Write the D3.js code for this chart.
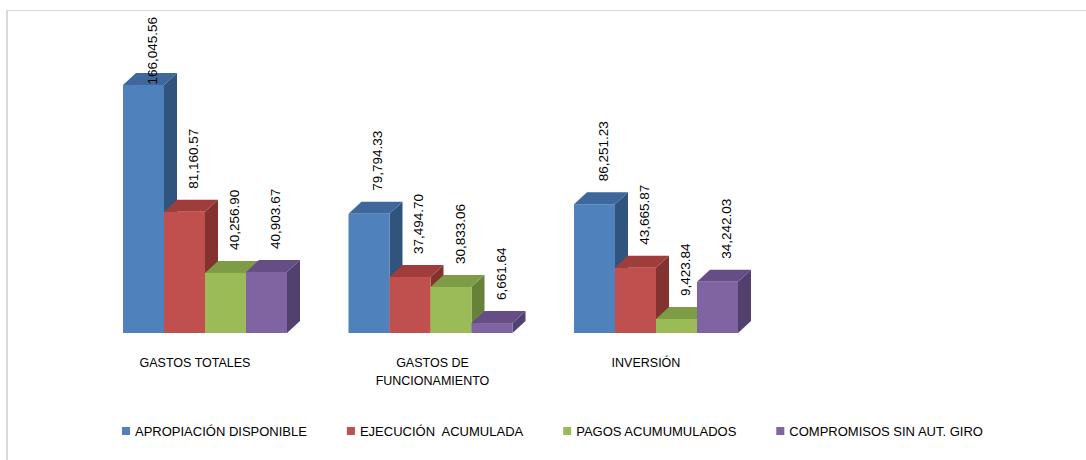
<!DOCTYPE html>
<html><head><meta charset="utf-8">
<script src="https://cdn.jsdelivr.net/npm/d3@7"></script>
<style>
html,body{margin:0;padding:0;background:#fff;}
text{font-family:"Liberation Sans",Arial,sans-serif;fill:#000;}
</style></head>
<body><svg id="c" width="1086" height="460"></svg>
<script>
const categories = [["GASTOS TOTALES"], ["GASTOS DE", "FUNCIONAMIENTO"], ["INVERSIÓN"]];
const seriesNames = ["APROPIACIÓN DISPONIBLE", "EJECUCIÓN  ACUMULADA", "PAGOS ACUMUMULADOS", "COMPROMISOS SIN AUT. GIRO"];
const apropiacion = [166045.56, 79794.33, 86251.23];
const ejecucion = [81160.57, 37494.70, 43665.87];
const pagos = [40256.90, 30833.06, 9423.84];
const compromisos = [40903.67, 6661.64, 34242.03];
const seriesValues = [apropiacion, ejecucion, pagos, compromisos];
const frontColors = ["#4F81BD", "#C0504D", "#9BBB59", "#8064A2"];
const topColors = ["#3E679C", "#9E3D3A", "#7E9B45", "#654E86"];
const sideColors = ["#31547F", "#843230", "#67803A", "#52406F"];

const svg = d3.select("#c");
// chart frame
svg.append("line").attr("x1",7).attr("x2",1086).attr("y1",10.5).attr("y2",10.5).attr("stroke","#D9D9D9").attr("stroke-width",1);
svg.append("line").attr("x1",7).attr("x2",7).attr("y1",10).attr("y2",460).attr("stroke","#D9D9D9").attr("stroke-width",2);

const catIdx = categories.map((d,i)=>i);
const x0 = d3.scaleBand().domain(catIdx).range([123, 738]).paddingInner(0.2727).paddingOuter(0);
const x1 = d3.scaleBand().domain(d3.range(seriesNames.length)).range([0, x0.bandwidth()]).padding(0);
const y = d3.scaleLinear().domain([0, 200000]).range([333, 34.3]);
const dx = 13, dy = 12;

const fmt = d3.format(",.2f");

catIdx.forEach(ci => {
  const g = svg.append("g");
  seriesValues.forEach((vals, si) => {
    const v = vals[ci];
    const bx = x0(ci) + x1(si), bw = x1.bandwidth();
    const yt = y(v), yb = y(0);
    g.append("path").attr("fill", sideColors[si])
      .attr("d", `M${bx+bw},${yt}L${bx+bw+dx},${yt-dy}L${bx+bw+dx},${yb-dy}L${bx+bw},${yb}Z`);
    g.append("path").attr("fill", topColors[si])
      .attr("d", `M${bx},${yt}L${bx+dx},${yt-dy}L${bx+bw+dx},${yt-dy}L${bx+bw},${yt}Z`);
    g.append("rect").attr("x", bx).attr("y", yt).attr("width", bw).attr("height", yb-yt).attr("fill", frontColors[si]);
  });
  seriesValues.forEach((vals, si) => {
    const v = vals[ci];
    const bx = x0(ci) + x1(si);
    const t = svg.append("text").attr("font-size", 13.5).text(fmt(v));
    const len = t.node().getComputedTextLength();
    let ly = y(v) - dy - 11;
    if (ly - len < 17) ly = 17 + len;
    const lx = bx + 34;
    t.attr("transform", `translate(${lx},${ly}) rotate(-90)`);
  });
  const lab = svg.append("text").attr("font-size", 12.5).attr("text-anchor", "middle");
  const cx = x0(ci) + x0.bandwidth()/2 - (categories[ci].length > 1 ? -2 : 10);
  categories[ci].forEach((line, li) => {
    lab.append("tspan").attr("x", cx).attr("y", 367 + li*18).text(line);
  });
});

// legend
let lx = 122;
seriesNames.forEach((name, si) => {
  svg.append("rect").attr("x", lx).attr("y", 427).attr("width", 8).attr("height", 8).attr("fill", frontColors[si]);
  const t = svg.append("text").attr("x", lx + 13).attr("y", 435.5).attr("font-size", 13)
    .style("white-space", "pre").text(name);
  lx = lx + 13 + t.node().getComputedTextLength() + 40;
});
</script></body></html>
